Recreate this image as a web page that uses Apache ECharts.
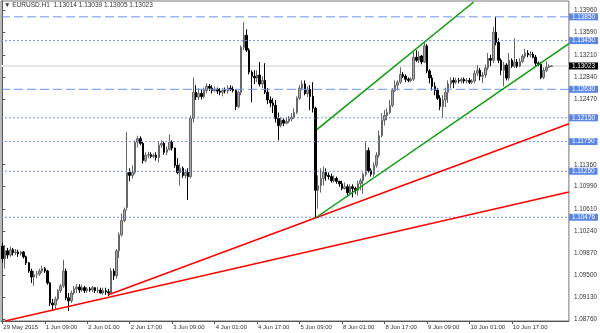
<!DOCTYPE html>
<html>
<head>
<meta charset="utf-8">
<script src="https://cdn.jsdelivr.net/npm/echarts@6/dist/echarts.min.js"></script>
<style>
html,body{margin:0;padding:0;background:#fff;}
#chart{width:600px;height:333px;}
</style>
</head>
<body>
<div id="chart"></div>
<script>
// ---- DATA ----
const symbolName = 'EURUSD.H1';
// trading sessions: [day label, first hour, last hour]
const sessions = [['29 May',17,23],['1 Jun',0,23],['2 Jun',0,23],['3 Jun',0,23],['4 Jun',0,23],['5 Jun',0,23],['8 Jun',0,23],['9 Jun',0,23],['10 Jun',0,23],['11 Jun',0,8]];
const firstLabel = '29 May 2015';

const openP = [
1.0999,1.0978,1.0991,1.0984,1.0993,1.0988,1.0989,1.0986,1.0989,1.0981,
1.0971,1.0957,1.0947,1.0951,1.0952,1.0957,1.0961,1.0957,1.0937,1.0903,
1.0900,1.0910,1.0924,1.0932,1.0957,1.0912,1.0907,1.0920,1.0927,1.0930,
1.0925,1.0929,1.0924,1.0927,1.0925,1.0929,1.0924,1.0925,1.0920,1.0924,
1.0922,1.0920,1.0957,1.0949,1.0991,1.1018,1.1042,1.1064,1.1123,1.1118,
1.1123,1.1174,1.1180,1.1172,1.1143,1.1152,1.1153,1.1150,1.1152,1.1148,
1.1169,1.1172,1.1157,1.1162,1.1174,1.1164,1.1135,1.1123,1.1130,1.1118,
1.1123,1.1116,1.1214,1.1258,1.1250,1.1256,1.1251,1.1261,1.1268,1.1265,
1.1261,1.1263,1.1260,1.1258,1.1261,1.1260,1.1265,1.1263,1.1261,1.1234,
1.1258,1.1334,1.1354,1.1329,1.1292,1.1285,1.1282,1.1287,1.1272,1.1278,
1.1258,1.1245,1.1240,1.1236,1.1214,1.1202,1.1211,1.1206,1.1209,1.1213,
1.1216,1.1224,1.1248,1.1265,1.1272,1.1256,1.1263,1.1251,1.1231,1.1093,
1.1101,1.1113,1.1123,1.1118,1.1116,1.1109,1.1113,1.1108,1.1104,1.1096,
1.1099,1.1089,1.1099,1.1096,1.1093,1.1104,1.1109,1.1120,1.1160,1.1126,
1.1120,1.1135,1.1152,1.1185,1.1211,1.1219,1.1224,1.1236,1.1261,1.1270,
1.1275,1.1288,1.1285,1.1280,1.1278,1.1280,1.1317,1.1312,1.1319,1.1309,
1.1336,1.1294,1.1282,1.1268,1.1261,1.1248,1.1234,1.1245,1.1258,1.1272,
1.1278,1.1275,1.1278,1.1277,1.1280,1.1277,1.1278,1.1275,1.1277,1.1290,
1.1295,1.1285,1.1287,1.1299,1.1315,1.1312,1.1359,1.1342,1.1312,1.1295,
1.1304,1.1282,1.1312,1.1302,1.1309,1.1302,1.1310,1.1319,1.1324,1.1321,
1.1322,1.1317,1.1307,1.1305,1.1283,1.1295,1.1300,1.13014];

const closeP = [
1.0978,1.0991,1.0984,1.0993,1.0988,1.0989,1.0986,1.0989,1.0981,1.0971,
1.0957,1.0947,1.0951,1.0952,1.0957,1.0961,1.0957,1.0937,1.0903,1.0900,
1.0910,1.0924,1.0932,1.0957,1.0912,1.0907,1.0920,1.0927,1.0930,1.0925,
1.0929,1.0924,1.0927,1.0925,1.0929,1.0924,1.0925,1.0920,1.0924,1.0922,
1.0920,1.0957,1.0949,1.0991,1.1018,1.1042,1.1060,1.1123,1.1118,1.1123,
1.1174,1.1180,1.1172,1.1143,1.1152,1.1153,1.1150,1.1152,1.1148,1.1169,
1.1172,1.1157,1.1162,1.1174,1.1164,1.1135,1.1123,1.1130,1.1118,1.1123,
1.1116,1.1214,1.1258,1.1250,1.1256,1.1251,1.1261,1.1268,1.1265,1.1261,
1.1263,1.1260,1.1258,1.1261,1.1260,1.1265,1.1263,1.1261,1.1234,1.1258,
1.1334,1.1354,1.1329,1.1292,1.1285,1.1282,1.1287,1.1272,1.1278,1.1258,
1.1245,1.1240,1.1236,1.1214,1.1202,1.1211,1.1206,1.1209,1.1213,1.1216,
1.1224,1.1248,1.1265,1.1272,1.1256,1.1263,1.1251,1.1231,1.1093,1.1101,
1.1113,1.1123,1.1118,1.1116,1.1109,1.1113,1.1108,1.1104,1.1096,1.1099,
1.1089,1.1099,1.1096,1.1093,1.1104,1.1109,1.1120,1.1160,1.1126,1.1120,
1.1135,1.1152,1.1185,1.1211,1.1219,1.1224,1.1236,1.1261,1.1270,1.1275,
1.1288,1.1285,1.1280,1.1278,1.1280,1.1317,1.1312,1.1319,1.1309,1.1336,
1.1294,1.1282,1.1268,1.1261,1.1248,1.1234,1.1245,1.1258,1.1272,1.1278,
1.1275,1.1278,1.1277,1.1280,1.1277,1.1278,1.1275,1.1277,1.1290,1.1295,
1.1285,1.1287,1.1299,1.1315,1.1312,1.1359,1.1342,1.1312,1.1295,1.1304,
1.1282,1.1312,1.1302,1.1309,1.1302,1.1310,1.1319,1.1324,1.1321,1.1322,
1.1317,1.1307,1.1305,1.1283,1.1295,1.1300,1.1302,1.13023];

const lowP = [
1.0971,1.0961,1.0978,1.0981,1.0983,1.0984,1.0981,1.0983,1.0978,1.0967,
1.0954,1.0937,1.0932,1.0945,1.0949,1.0954,1.0954,1.0934,1.0898,1.0891,
1.0893,1.0907,1.0920,1.0929,1.0908,1.0890,1.0903,1.0917,1.0920,1.0920,
1.0922,1.0920,1.0920,1.0922,1.0922,1.0920,1.0920,1.0919,1.0917,1.0917,
1.0915,1.0919,1.0942,1.0944,1.0979,1.1015,1.1039,1.1059,1.1108,1.1113,
1.1120,1.1165,1.1169,1.1138,1.1140,1.1147,1.1147,1.1147,1.1143,1.1140,
1.1164,1.1153,1.1152,1.1160,1.1160,1.1131,1.1120,1.1101,1.1114,1.1113,
1.1077,1.1113,1.1207,1.1245,1.1245,1.1246,1.1248,1.1256,1.1260,1.1256,
1.1258,1.1255,1.1253,1.1251,1.1256,1.1256,1.1260,1.1258,1.1228,1.1231,
1.1253,1.1329,1.1326,1.1288,1.1241,1.1272,1.1275,1.1268,1.1265,1.1255,
1.1238,1.1233,1.1223,1.1207,1.1177,1.1199,1.1201,1.1204,1.1206,1.1209,
1.1213,1.1221,1.1245,1.1261,1.1253,1.1250,1.1228,1.1224,1.10476,1.1062,
1.1089,1.1101,1.1109,1.1111,1.1106,1.1106,1.1104,1.1099,1.1093,1.1094,
1.1082,1.1084,1.1081,1.1087,1.1084,1.1093,1.1087,1.1116,1.1123,1.1116,
1.1116,1.1131,1.1148,1.1182,1.1202,1.1211,1.1221,1.1233,1.1258,1.1261,
1.1272,1.1282,1.1275,1.1275,1.1275,1.1277,1.1309,1.1307,1.1305,1.1307,
1.1290,1.1273,1.1261,1.1253,1.1245,1.1228,1.1215,1.1233,1.1240,1.1265,
1.1265,1.1272,1.1273,1.1273,1.1273,1.1273,1.1272,1.1272,1.1273,1.1285,
1.1278,1.1273,1.1282,1.1295,1.1302,1.1307,1.1337,1.1307,1.1287,1.1268,
1.1278,1.1278,1.1299,1.1299,1.1299,1.1300,1.1307,1.1315,1.1317,1.1317,
1.1315,1.1302,1.1302,1.1280,1.1280,1.1292,1.1299,1.13005];

const highP = [
1.1005,1.1001,1.0996,1.0998,1.0996,1.0994,1.0993,1.0991,1.0991,1.0983,
1.0972,1.0961,1.0957,1.0957,1.0961,1.0966,1.0964,1.0959,1.0939,1.0910,
1.0914,1.0927,1.0935,1.0976,1.0961,1.0920,1.0924,1.0932,1.0935,1.0935,
1.0934,1.0932,1.0930,1.0930,1.0932,1.0930,1.0930,1.0929,1.0929,1.0929,
1.0927,1.0962,1.0961,1.0994,1.1022,1.1054,1.1064,1.1191,1.1130,1.1135,
1.1177,1.1185,1.1184,1.1175,1.1157,1.1158,1.1157,1.1155,1.1157,1.1175,
1.1177,1.1175,1.1167,1.1187,1.1177,1.1165,1.1147,1.1138,1.1133,1.1128,
1.1130,1.1219,1.1283,1.1270,1.1265,1.1263,1.1266,1.1273,1.1272,1.1270,
1.1268,1.1266,1.1265,1.1265,1.1266,1.1270,1.1270,1.1268,1.1263,1.1261,
1.1337,1.1376,1.1364,1.1332,1.1295,1.1295,1.1295,1.1309,1.1285,1.1307,
1.1265,1.1251,1.1248,1.1245,1.1224,1.1216,1.1214,1.1216,1.1218,1.1223,
1.1231,1.1251,1.1270,1.1278,1.1278,1.1268,1.1270,1.1275,1.1234,1.1118,
1.1130,1.1133,1.1130,1.1123,1.1121,1.1118,1.1116,1.1109,1.1109,1.1106,
1.1103,1.1103,1.1103,1.1099,1.1109,1.1113,1.1123,1.1174,1.1165,1.1130,
1.1140,1.1157,1.1194,1.1223,1.1228,1.1231,1.1245,1.1265,1.1278,1.1278,
1.1300,1.1292,1.1288,1.1283,1.1283,1.1326,1.1329,1.1327,1.1321,1.1342,
1.1339,1.1297,1.1287,1.1275,1.1265,1.1253,1.1253,1.1266,1.1278,1.1283,
1.1283,1.1282,1.1282,1.1283,1.1283,1.1282,1.1282,1.1280,1.1295,1.1304,
1.1299,1.1292,1.1305,1.1324,1.1321,1.1368,1.1385,1.1349,1.1315,1.1309,
1.1307,1.1324,1.1315,1.1349,1.1314,1.1315,1.1322,1.1331,1.1329,1.1327,
1.1326,1.1321,1.1310,1.1309,1.1300,1.1310,1.1305,1.13039];

// price axis tick labels
const priceTicks = [1.08760,1.09130,1.09500,1.09870,1.10240,1.10610,1.10990,1.11360,1.12470,1.12840,1.13210,1.13590,1.13960];
// horizontal levels
const levelsDashed = [1.13850, 1.12630];
const levelsDotted = [1.13450, 1.12150, 1.11750, 1.11250, 1.10476];
// trend lines: [bar index, price]
const trendRed1 = [[1, 1.0873], [213.5, 1.1090]];
const trendRed2 = [[40, 1.0917], [213.5, 1.1205]];
const trendGreenLow = [[118.4, 1.10476], [213.5, 1.1340]];
const trendGreenUp = [[118.5, 1.1195], [177.6, 1.1410]];

// ---- BUILD ----
const categories = [];
sessions.forEach(([d, h0, h1]) => {
  for (let h = h0; h <= h1; h++) categories.push(d + ' ' + String(h).padStart(2, '0') + ':00');
});
const nBars = categories.length;          // 208
const shiftBars = 6;                      // empty space on the right (chart shift)
for (let k = 0; k < shiftBars; k++) categories.push('');
const nCat = categories.length;
const xLo = -0.5, xHi = nCat - 0.5;

const candleData = openP.map((o, i) => [o, closeP[i], lowP[i], highP[i]]);
const last = openP.length - 1;

const FONT = 'Liberation Sans';
const lineBlue = '#6b93f0';
const boxBlue = '#5a86e8';

function levelSeries(v, dash, color, width, boxColor, z) {
  return {
    type: 'line', xAxisIndex: 1, yAxisIndex: 0, silent: true, z: z,
    symbol: 'none', clip: false,
    data: [[xLo, v], [xHi, v]],
    lineStyle: { color: color, width: width, type: dash },
    endLabel: {
      show: true, distance: 0,
      formatter: () => v.toFixed(5),
      backgroundColor: boxColor, color: '#ffffff',
      fontFamily: FONT, fontSize: 6.4, padding: [1, 3, 0, 3], lineHeight: 6
    }
  };
}

const showIdx = (i) => i % 16 === 0 && i < nBars - 10;

const series = [];
series.push(levelSeries(closeP[last], 'solid', '#e6e6e6', 2, '#000000', 1));
series.push({
  type: 'candlestick',
  data: candleData,
  xAxisIndex: 0, yAxisIndex: 0,
  barWidth: 2, z: 2,
  itemStyle: { color: '#a6a6a6', borderColor: '#666666', color0: '#000000', borderColor0: '#000000', borderWidth: 1 }
});
levelsDashed.forEach(v => series.push(levelSeries(v, [9, 4], lineBlue, 1, boxBlue, 3)));
levelsDotted.forEach(v => series.push(levelSeries(v, [2, 2], lineBlue, 1, boxBlue, 3)));
[[trendRed1, '#ff0000'], [trendRed2, '#ff0000'], [trendGreenLow, '#0a9a0a'], [trendGreenUp, '#0a9a0a']].forEach(([d, c]) => {
  series.push({ type: 'line', xAxisIndex: 1, data: d, symbol: 'none', silent: true, lineStyle: { color: c, width: 1.5 }, z: 4 });
});

const chart = echarts.init(document.getElementById('chart'), null, { renderer: 'canvas' });
chart.setOption({
  animation: false,
  backgroundColor: '#ffffff',
  graphic: [{
    type: 'text', left: 4, top: 2,
    style: {
      text: '\u25BC ' + symbolName + '  ' + [openP[last], highP[last], lowP[last], closeP[last]].map(v => v.toFixed(5)).join(' '),
      fontFamily: FONT, fontSize: 6.5, fill: '#333333'
    }
  }],
  grid: { left: 1, right: 28, top: 1, bottom: 12, show: true, borderColor: '#777777', borderWidth: 1, backgroundColor: '#ffffff' },
  xAxis: [{
    type: 'category', data: categories, boundaryGap: true,
    axisLine: { show: true, lineStyle: { color: '#555555', width: 1 } },
    axisTick: { show: true, alignWithLabel: true, length: 3, interval: (i) => showIdx(i), lineStyle: { color: '#555555' } },
    axisLabel: {
      show: true, interval: (i) => showIdx(i), align: 'left', margin: 3,
      formatter: (v, i) => i === 0 ? firstLabel : v,
      fontFamily: FONT, fontSize: 6, color: '#333333', padding: [0, 0, 0, 1]
    },
    splitLine: { show: false }
  }, {
    type: 'value', show: false, min: xLo, max: xHi
  }],
  yAxis: {
    type: 'value', position: 'right', min: 1.08729, max: 1.14117, scale: true,
    axisLine: { show: true, lineStyle: { color: '#555555', width: 1 } },
    axisTick: { show: true, length: 3, customValues: priceTicks, lineStyle: { color: '#555555' } },
    axisLabel: {
      show: true, customValues: priceTicks, margin: 5,
      formatter: v => Number(v).toFixed(5),
      fontFamily: FONT, fontSize: 6.4, color: '#333333'
    },
    splitLine: { show: false }
  },
  series: series
});
</script>
</body>
</html>
